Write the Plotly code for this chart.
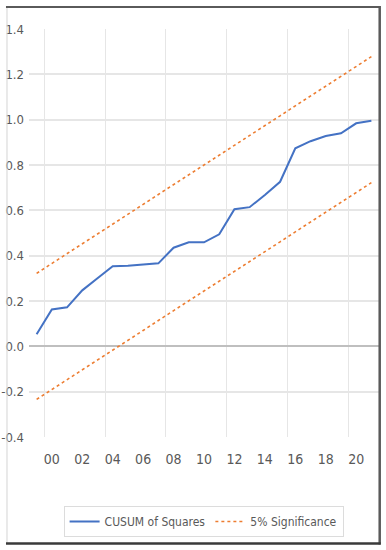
import plotly.graph_objects as go

years = list(range(1999, 2022))
cusum_sq = [0.053, 0.163, 0.172, 0.247, 0.300, 0.353, 0.355, 0.362, 0.366, 0.435,
            0.459, 0.459, 0.494, 0.605, 0.614, 0.668, 0.726, 0.874, 0.905, 0.928,
            0.940, 0.984, 0.995]
upper_5 = [0.322, 0.365, 0.409, 0.452, 0.496, 0.539, 0.583, 0.626, 0.670, 0.713,
           0.757, 0.800, 0.843, 0.887, 0.930, 0.974, 1.017, 1.061, 1.104, 1.148,
           1.191, 1.234, 1.278]
lower_5 = [-0.234, -0.191, -0.147, -0.104, -0.060, -0.017, 0.027, 0.070, 0.114, 0.157,
           0.201, 0.244, 0.287, 0.331, 0.374, 0.418, 0.461, 0.505, 0.548, 0.592,
           0.635, 0.678, 0.722]
x_tick_vals = [2000, 2002, 2004, 2006, 2008, 2010, 2012, 2014, 2016, 2018, 2020]
x_tick_text = ["00", "02", "04", "06", "08", "10", "12", "14", "16", "18", "20"]
x_grid_vals = [1999.5, 2003.5, 2007.5, 2011.5, 2015.5, 2019.5]
y_tick_vals = [-0.4, -0.2, 0.0, 0.2, 0.4, 0.6, 0.8, 1.0, 1.2, 1.4]
y_tick_text = ["-0.4", "-0.2", "0.0", "0.2", "0.4", "0.6", "0.8", "1.0", "1.2", "1.4"]
y_grid_vals = [-0.2, 0.2, 0.4, 0.6, 0.8, 1.0, 1.2]

W, H = 386, 550
L, R, T, B = 29, 378.8, 29, 436.6

FONT = "DejaVu Sans Condensed, Liberation Sans Narrow, Liberation Sans, sans-serif"
TXT = "#595959"

def px(x):
    return (x - L) / (R - L)

def py(y):
    return (B - y) / (B - T)

fig = go.Figure()
fig.add_trace(go.Scatter(x=years, y=cusum_sq, mode="lines", name="CUSUM of Squares",
                         line=dict(color="#4472C4", width=2)))
fig.add_trace(go.Scatter(x=years, y=upper_5, mode="lines", name="5% Significance",
                         line=dict(color="#ED7D31", width=1.6, dash="dot")))
fig.add_trace(go.Scatter(x=years, y=lower_5, mode="lines", name="5% Significance",
                         showlegend=False,
                         line=dict(color="#ED7D31", width=1.6, dash="dot")))

shapes = [
    dict(type="line", xref="paper", yref="paper", x0=px(7), x1=px(7), y0=py(7), y1=py(543),
         line=dict(color="#d4d4d4", width=1)),
    dict(type="line", xref="paper", yref="paper", x0=px(6), x1=px(380), y0=py(7), y1=py(7),
         line=dict(color="#5a5a5a", width=2)),
    dict(type="line", xref="paper", yref="paper", x0=px(379.5), x1=px(379.5), y0=py(6), y1=py(544),
         line=dict(color="#5a5a5a", width=2.5)),
    dict(type="line", xref="paper", yref="paper", x0=px(6), x1=px(380.5), y0=py(543), y1=py(543),
         line=dict(color="#3a3a3a", width=2.5)),
]

fig.update_layout(
    width=W, height=H,
    margin=dict(l=L, r=W - R, t=T, b=H - B, pad=0, autoexpand=False),
    paper_bgcolor="white", plot_bgcolor="white",
    font=dict(family=FONT, size=14, color=TXT),
    showlegend=True,
    legend=dict(orientation="h", x=px(203.5), y=py(521), xanchor="center", yanchor="middle",
                bordercolor="#dcdcdc", borderwidth=1, bgcolor="white",
                font=dict(family=FONT, size=12, color=TXT), tracegroupgap=0,
                itemwidth=30),
    shapes=shapes,
    xaxis=dict(range=[1998.5, 2021.5], tickvals=x_tick_vals, ticktext=x_tick_text,
               showgrid=False, zeroline=False, showline=False, ticks="",
               ticklabelstandoff=12, automargin=False, tickfont=dict(size=14),
               minor=dict(tickvals=x_grid_vals, showgrid=True, gridcolor="#e6e6e6",
                          gridwidth=1, ticks="")),
    yaxis=dict(range=[-0.4, 1.4], tickvals=y_tick_vals, ticktext=y_tick_text,
               showgrid=False, zeroline=True, zerolinecolor="#bfbfbf", zerolinewidth=2,
               showline=False, ticks="", ticklabelstandoff=4, automargin=False,
               tickfont=dict(size=13),
               minor=dict(tickvals=y_grid_vals, showgrid=True, gridcolor="#e6e6e6",
                          gridwidth=1.5, ticks="")),
)

fig.write_html("out.html", config={"displayModeBar": False},
               post_script="document.body.style.margin='0px';")
